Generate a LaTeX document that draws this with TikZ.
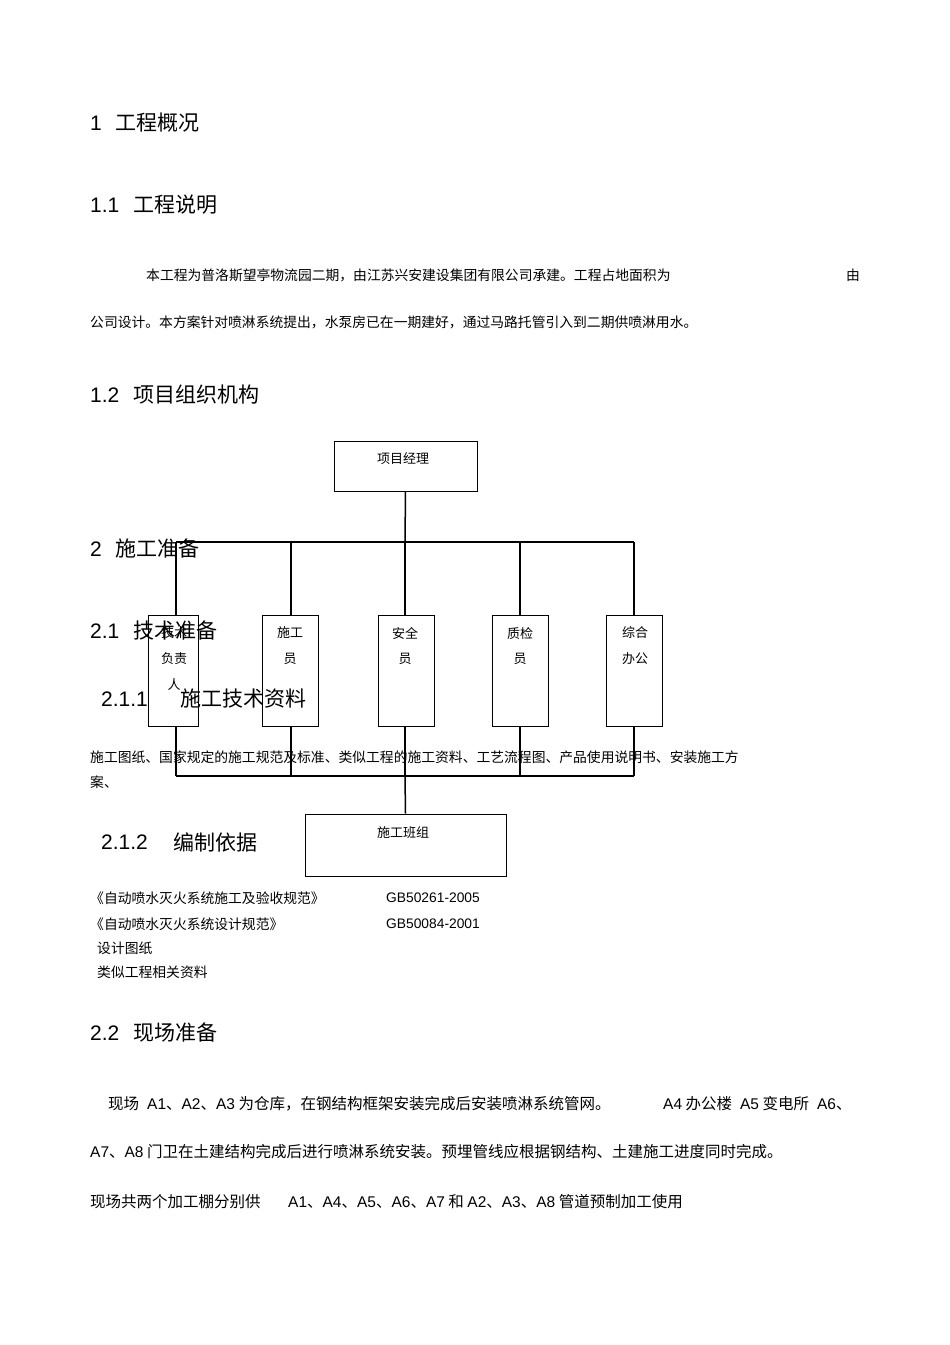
\documentclass[tikz,border=0pt]{standalone}
\usepackage{fontspec}
\setmainfont{Liberation Sans}
\newfontfamily\cjk{Noto Sans CJK SC}
\newfontfamily\lat{Liberation Sans}
\begin{document}
\begin{tikzpicture}[x=1pt,y=-1pt,
  hd/.style={anchor=west,inner sep=0pt,font=\cjk\fontsize{21}{21}\selectfont},
  bt/.style={anchor=west,inner sep=0pt,font=\cjk\fontsize{13.8}{14}\selectfont},
  bt2/.style={anchor=west,inner sep=0pt,font=\cjk\fontsize{15.5}{16}\selectfont},
  bx/.style={draw,line width=1pt},
  lab/.style={inner sep=0pt,font=\cjk\fontsize{13}{13}\selectfont},
  ln/.style={line width=1.5pt}]
\useasboundingbox[fill=white] (0,0) rectangle (950,1345);
\node[hd] (h1) at (90,123) {{\lat 1}\hspace{14pt}工程概况};
\node[hd] (h11) at (90,205) {{\lat 1.1}\hspace{14pt}工程说明};
\node[bt] (p1) at (146,275) {本工程为普洛斯望亭物流园二期，由江苏兴安建设集团有限公司承建。工程占地面积为};
\node[bt] (p1b) at (846,275) {由};
\node[bt] (p2) at (90,322) {公司设计。本方案针对喷淋系统提出，水泵房已在一期建好，通过马路托管引入到二期供喷淋用水。};
\node[hd] (h12) at (90,395) {{\lat 1.2}\hspace{14pt}项目组织机构};
% org chart
\node[bx,minimum width=143pt,minimum height=50pt,inner sep=0pt] (pm) at (405.5,466) {};
\node[lab] at (403,459) {项目经理};
\coordinate (jt) at (405,542);
\draw[ln] (pm.south) -- (jt);
\draw[ln] (176,542) -- (634,542);
\foreach \n/\x/\w in {b1/173/50,b2/290/56,b3/406/56,b4/520/56,b5/634/56}{
  \node[bx,minimum width=\w pt,minimum height=111pt,inner sep=0pt] (\n) at (\x,670.5) {};
}
\foreach \x in {176,291,405,520,634}{
  \draw[ln] (\x,542) -- (\x,615);
  \draw[ln] (\x,726) -- (\x,776);
}
\draw[ln] (176,776) -- (634,776);
\node[bx,minimum width=201pt,minimum height=62pt,inner sep=0pt] (tm) at (405.5,845) {};
\draw[ln] (405,776) -- (tm.north);
\node[lab] at (403,833) {施工班组};
\node[lab] at (174,633) {技术}; \node[lab] at (174,659) {负责}; \node[lab] at (174,685) {人};
\node[lab] at (290,633) {施工}; \node[lab] at (290,659) {员};
\node[lab] at (405,633) {安全}; \node[lab] at (405,659) {员};
\node[lab] at (520,633) {质检}; \node[lab] at (520,659) {员};
\node[lab] at (635,633) {综合}; \node[lab] at (635,659) {办公};
% section 2
\node[hd] (h2) at (90,548) {{\lat 2}\hspace{14pt}施工准备};
\node[hd] (h21) at (90,630) {{\lat 2.1}\hspace{14pt}技术准备};
\node[hd] (h211) at (101,699) {\lat 2.1.1};
\node[hd] (h211t) at (180,699) {施工技术资料};
\node[bt] (p3) at (90,757) {施工图纸、国家规定的施工规范及标准、类似工程的施工资料、工艺流程图、产品使用说明书、安装施工方};
\node[bt] (p3b) at (90,782) {案、};
\node[hd] (h212) at (101,842) {\lat 2.1.2};
\node[hd] (h212t) at (173,842) {编制依据};
\node[bt] (r1) at (90,898) {《自动喷水灭火系统施工及验收规范》};
\node[bt] (g1) at (386,898) {\lat GB50261-2005};
\node[bt] (r2) at (90,924) {《自动喷水灭火系统设计规范》};
\node[bt] (g2) at (386,924) {\lat GB50084-2001};
\node[bt] (r3) at (97,948) {设计图纸};
\node[bt] (r4) at (97,972) {类似工程相关资料};
\node[hd] (h22) at (90,1033) {{\lat 2.2}\hspace{14pt}现场准备};
\node[bt2] (s1) at (108,1104) {现场\hspace{8pt}{\lat A1}、{\lat A2}、{\lat A3} 为仓库，在钢结构框架安装完成后安装喷淋系统管网。};
\node[bt2] (s1b) at (663,1104) {{\lat A4} 办公楼\hspace{8pt}{\lat A5} 变电所\hspace{8pt}{\lat A6}、};
\node[bt2] (s2) at (90,1152) {{\lat A7}、{\lat A8} 门卫在土建结构完成后进行喷淋系统安装。预埋管线应根据钢结构、土建施工进度同时完成。};
\node[bt2] (s3) at (90,1202) {现场共两个加工棚分别供};
\node[bt2] (s3b) at (288,1202) {{\lat A1}、{\lat A4}、{\lat A5}、{\lat A6}、{\lat A7} 和 {\lat A2}、{\lat A3}、{\lat A8} 管道预制加工使用};
\end{tikzpicture}
\end{document}
